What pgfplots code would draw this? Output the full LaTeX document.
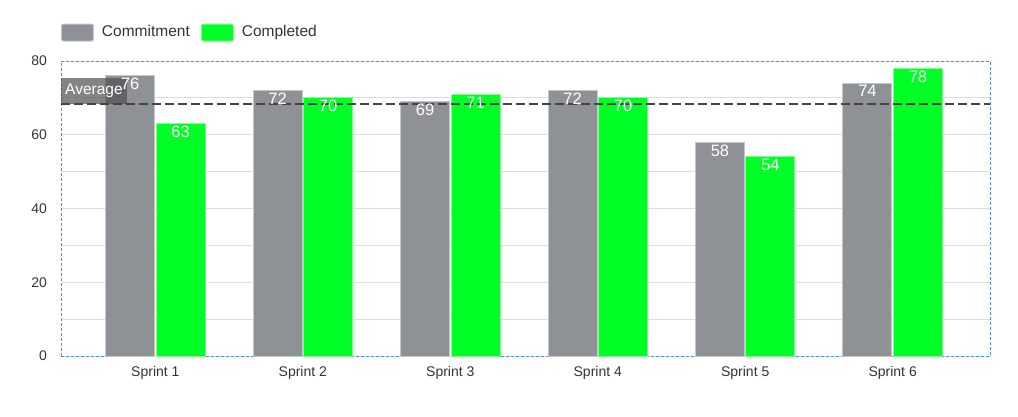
\documentclass[border=0pt]{standalone}
\usepackage{pgfplots}
\pgfplotsset{compat=1.18}
\usepackage{fontspec}
\setmainfont{Liberation Sans}
\definecolor{cgray}{HTML}{8E9196}
\definecolor{cgrayedge}{HTML}{C4C6C9}
\definecolor{cgreen}{HTML}{00FF26}
\definecolor{cgreenedge}{HTML}{80FF90}
\definecolor{cblue}{HTML}{4A8FE0}
\definecolor{cgrid}{HTML}{DEDEDE}
\definecolor{cavg}{HTML}{444444}
\definecolor{cbox}{HTML}{505050}
\definecolor{ctext}{HTML}{333333}
\begin{document}
\begin{tikzpicture}
\useasboundingbox (0,0) rectangle (1018pt,416pt);
\begin{axis}[
  at={(61pt,60pt)}, anchor=south west,
  scale only axis, width=929pt, height=295pt,
  ybar=1.5pt, bar width=49pt,
  xmin=-0.64, xmax=5.66, ymin=0, ymax=80,
  xtick={0,1,2,3,4,5},
  xticklabels={Sprint 1,Sprint 2,Sprint 3,Sprint 4,Sprint 5,Sprint 6},
  ytick={0,20,40,60,80}, minor ytick={10,30,50,70},
  ymajorgrids, yminorgrids,
  major grid style={cgrid, line width=1pt},
  minor grid style={cgrid, line width=1pt},
  major tick length=0pt, minor tick length=0pt,
  axis line style={cblue, dash pattern=on 3pt off 2pt, line width=0.8pt},
  tick label style={text=ctext, font=\fontsize{14}{16}\selectfont},
  yticklabel style={xshift=-10.5pt},
  xticklabel style={yshift=-7pt},
  /pgf/number format/assume math mode=true,
  clip=false,
  legend columns=2,
  legend style={at={(0,1)}, anchor=south west, yshift=19.5pt, draw=none, fill=none,
    inner sep=0pt, outer sep=0pt, font=\fontsize{15.5}{18}\selectfont, text=ctext,
    nodes={inner sep=0pt},
    /tikz/every odd column/.append style={column sep=8pt},
    /tikz/every even column/.append style={column sep=11pt}},
  legend image code/.code={\fill[#1, rounded corners=2pt] (0pt,-9pt) rectangle (32pt,8pt);},
  nodes near coords style={anchor=north, text=white, font=\fontsize{16.5}{18}\selectfont, inner sep=2pt},
]
\addplot[fill=cgray, draw=cgrayedge, line width=1pt, nodes near coords] coordinates {(0,76) (1,72) (2,69) (3,72) (4,58) (5,74)};
\addlegendentry{Commitment}
\addplot[fill=cgreen, draw=cgreenedge, line width=1pt, nodes near coords] coordinates {(0,63) (1,70) (2,71) (3,70) (4,54) (5,78)};
\addlegendentry{Completed}
\node[anchor=south west, fill=cbox, fill opacity=0.7, text opacity=1, text=white,
  font=\fontsize{15.5}{18}\selectfont, inner xsep=4pt, inner ysep=0pt, minimum height=26pt]
  at (axis cs:-0.64,68.4) {Average};
\addplot[sharp plot, cavg, line width=2.5pt, dash pattern=on 9pt off 4pt, forget plot] coordinates {(-0.64,68.4) (5.66,68.4)};
\end{axis}
\end{tikzpicture}
\end{document}
